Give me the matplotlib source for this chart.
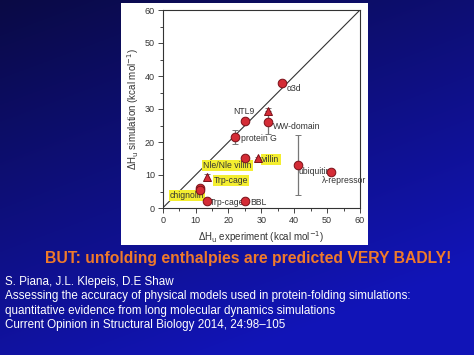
import numpy as np
import matplotlib
matplotlib.use("Agg")
import matplotlib.pyplot as plt
from matplotlib.patches import Rectangle
from matplotlib.ticker import MultipleLocator

plt.rcParams['font.family'] = ['Liberation Sans', 'DejaVu Sans']

# proteins drawn as circles
circ_names = ["α3d", "NTL9", "WW-domain", "protein G", "Nle/Nle villin",
              "ubiquitin", "λ-repressor", "chignolin", "", "Trp-cage", "BBL"]
circ_exp = [36.2, 25.0, 32.0, 22.0, 25.0, 41.0, 51.2, 11.3, 11.3, 13.5, 25.0]
circ_sim = [38.0, 26.3, 26.0, 21.4, 15.1, 13.0, 11.0, 6.2, 5.4, 2.1, 2.1]
circ_err = [0.5, 0.4, 3.5, 2.1, 0.9, 9.0, 0.8, 0.5, 0.4, 0.4, 0.8]

# proteins drawn as triangles
tri_names = ["", "villin", "Trp-cage"]
tri_exp = [32.0, 29.1, 13.6]
tri_sim = [29.5, 15.1, 9.3]
tri_err = [0.9, 0.4, 0.9]

# label placement for each point: (dx, dy, ha, highlighted)
circ_lab = [(1.4, -1.8, "left", False), (-0.4, 3.0, "center", False),
            (1.6, -1.3, "left", False), (1.7, -0.2, "left", False),
            (2.0, -2.3, "right", True), (0.2, -2.0, "left", False),
            (-2.9, -2.8, "left", False), (1.4, -2.3, "right", True),
            (0, 0, "left", False), (0.9, -0.4, "left", False),
            (1.6, -0.4, "left", False)]
tri_lab = [(0, 0, "left", False), (1.2, -0.3, "left", True),
           (1.9, -1.0, "left", True)]

title = "BUT: unfolding enthalpies are predicted VERY BADLY!"
citation = ["S. Piana, J.L. Klepeis, D.E Shaw",
            "Assessing the accuracy of physical models used in protein-folding simulations:",
            "quantitative evidence from long molecular dynamics simulations",
            "Current Opinion in Structural Biology 2014, 24:98\u2013105"]

fig = plt.figure(figsize=(4.74, 3.55), dpi=100)

# slide background
bg = fig.add_axes([0, 0, 1, 1])
yy, xx = np.mgrid[0:1:200j, 0:1:200j]
t = np.clip(0.8 * yy + 0.4 * xx, 0, 1)
top = np.array([0.04, 0.04, 0.27])
low = np.array([0.07, 0.08, 0.72])
img = top[None, None, :] * (1 - t[..., None]) + low[None, None, :] * t[..., None]
bg.imshow(img, extent=[0, 1, 0, 1], aspect="auto", origin="upper")
bg.set_axis_off()
bg.add_patch(Rectangle((121 / 474, 1 - 245 / 355), 247 / 474, 242 / 355,
                       transform=bg.transAxes, facecolor="white", edgecolor="none"))

ax = fig.add_axes([162.7 / 474, 1 - 208 / 355, 197.3 / 474, 198 / 355])
ax.set_xlim(0, 60)
ax.set_ylim(0, 60)
ax.plot([0, 60], [0, 60], color="#333333", lw=0.8, zorder=1)

red = "#d42c36"
edge = "#7a1018"
ax.errorbar(circ_exp, circ_sim, yerr=circ_err, fmt="o", ms=6.2, mfc=red, mec=edge,
            mew=0.7, ecolor="#777777", elinewidth=0.9, capsize=2.5, zorder=3)
ax.errorbar(tri_exp, tri_sim, yerr=tri_err, fmt="^", ms=6.0, mfc=red, mec=edge,
            mew=0.7, ecolor="#777777", elinewidth=0.9, capsize=2.5, zorder=3)

def put_labels(names, xs, ys, labs):
    for name, x, y, (dx, dy, ha, hl) in zip(names, xs, ys, labs):
        if not name:
            continue
        if hl:
            box = dict(boxstyle="square,pad=0.12", fc="#f4ee30", ec="none")
        else:
            box = None
        ax.text(x + dx, y + dy, name, fontsize=6.2, color="#333333", ha=ha,
                va="center", bbox=box, zorder=2)

put_labels(circ_names, circ_exp, circ_sim, circ_lab)
put_labels(tri_names, tri_exp, tri_sim, tri_lab)

ax.xaxis.set_major_locator(MultipleLocator(10))
ax.yaxis.set_major_locator(MultipleLocator(10))
ax.xaxis.set_minor_locator(MultipleLocator(5))
ax.yaxis.set_minor_locator(MultipleLocator(5))
ax.tick_params(which="both", direction="out", labelsize=6.5, labelcolor="#333333",
               color="#444444", width=0.7, pad=2)
ax.tick_params(which="major", length=3.5)
ax.tick_params(which="minor", length=2)
for s in ax.spines.values():
    s.set_linewidth(0.8)
    s.set_color("#333333")
ax.set_xlabel("ΔH$_\\mathrm{u}$ experiment (kcal mol$^{-1}$)", fontsize=7,
              color="#333333", labelpad=3)
ax.set_ylabel("ΔH$_\\mathrm{u}$ simulation (kcal mol$^{-1}$)", fontsize=7,
              color="#333333", labelpad=3)

fig.text(248 / 474, 1 - 258 / 355, title, color="#f07a2a", fontsize=11.3,
         fontweight="bold", ha="center", va="center")
for i, line in enumerate(citation):
    fig.text(5 / 474, 1 - (282 + 14.4 * i) / 355, line, color="white",
             fontsize=8.4, ha="left", va="center")

fig.savefig("out.png", dpi=100)
